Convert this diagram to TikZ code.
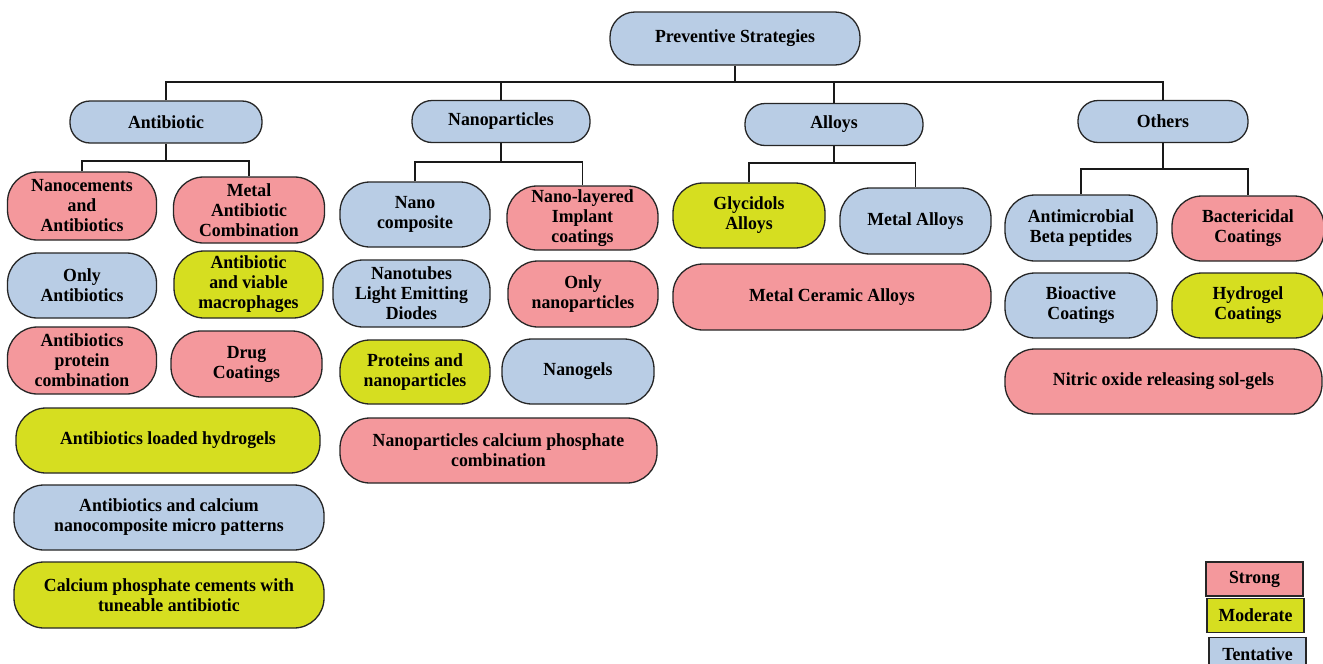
\documentclass[tikz,border=0pt]{standalone}
\usepackage{fontspec}
\setmainfont{Liberation Serif}
\newfontfamily\boxfont{Liberation Serif}[FakeStretch=0.96]
\definecolor{pinkc}{RGB}{244,152,156}
\definecolor{yellowc}{RGB}{214,222,32}
\definecolor{bluec}{RGB}{185,205,229}
\tikzset{
  pill/.style={draw=black!85, line width=1.3pt, fill=#1, rounded corners=30pt,
    align=center, inner sep=0pt, font=\boxfont\fontsize{18.5}{20}\selectfont\bfseries},
  head/.style={pill=bluec, rounded corners=20pt, minimum height=42},
  conn/.style={draw=black!90, line width=1.4pt},
  key/.style={draw=black!85, line width=1.4pt, fill=#1, inner sep=0pt,
    minimum width=97, minimum height=34,
    font=\boxfont\fontsize{18.5}{20}\selectfont\bfseries}
}
\begin{document}
\begin{tikzpicture}[x=1pt,y=-1pt]
\clip (0,0) rectangle (1323,664);
\fill[white] (0,0) rectangle (1323,664);

% root and first level
\node[pill=bluec, minimum width=250, minimum height=53, rounded corners=25pt] (root) at (735,38.5) {Preventive Strategies};
\node[head, minimum width=192] (anti) at (166,122) {Antibiotic};
\node[head, minimum width=178] (nano) at (501,121.5) {Nanoparticles};
\node[head, minimum width=178] (alloy) at (834,124.5) {Alloys};
\node[head, minimum width=170] (oth) at (1163,121.5) {Others};

\coordinate (bar) at (735,82);
\draw[conn] (root.south) -- (root.south |- bar);
\draw[conn] (anti.north) -- (anti.north |- bar) -- (oth.north |- bar) -- (oth.north);
\draw[conn] (nano.north) -- (nano.north |- bar);
\draw[conn] (alloy.north) -- (alloy.north |- bar);

% antibiotic branch
\node[pill=pinkc, minimum width=149, minimum height=68] (nac) at (82,206) {Nanocements\\and\\Antibiotics};
\node[pill=pinkc, minimum width=151, minimum height=66] (mac) at (249,210) {Metal\\Antibiotic\\Combination};
\node[pill=bluec, minimum width=149, minimum height=65] (oa) at (82,285.5) {Only\\Antibiotics};
\node[pill=yellowc, minimum width=149, minimum height=67] (avm) at (248.5,284.5) {Antibiotic\\and viable\\macrophages};
\node[pill=pinkc, minimum width=149, minimum height=67] (apc) at (82,360.5) {Antibiotics\\protein\\combination};
\node[pill=pinkc, minimum width=151, minimum height=66] (dc) at (246.5,364) {Drug\\Coatings};
\node[pill=yellowc, minimum width=304, minimum height=65] (alh) at (168,440.5) {Antibiotics loaded hydrogels};
\node[pill=bluec, minimum width=310, minimum height=65] (acn) at (169,517.5) {Antibiotics and calcium\\nanocomposite micro patterns};
\node[pill=yellowc, minimum width=310, minimum height=66] (cpc) at (169,595) {Calcium phosphate cements with\\tuneable antibiotic};

\coordinate (ja) at (166,161);
\draw[conn] (anti.south) -- (ja);
\draw[conn] (nac.north) -- (nac.north |- ja) -- (mac.north |- ja) -- (mac.north);

% nanoparticles branch
\node[pill=bluec, minimum width=150, minimum height=65] (nc) at (415,214.5) {Nano\\composite};
\node[pill=pinkc, minimum width=151, minimum height=64] (nli) at (582.5,218) {Nano-layered\\Implant\\coatings};
\node[pill=bluec, minimum width=157, minimum height=67] (nt) at (411.5,293.5) {Nanotubes\\Light Emitting\\Diodes};
\node[pill=pinkc, minimum width=150, minimum height=66] (on) at (583,294) {Only\\nanoparticles};
\node[pill=yellowc, minimum width=150, minimum height=64] (pn) at (415,372) {Proteins and\\nanoparticles};
\node[pill=bluec, minimum width=152, minimum height=65] (ng) at (578,371.5) {Nanogels};
\node[pill=pinkc, minimum width=317, minimum height=65] (ncp) at (498.5,450.5) {Nanoparticles calcium phosphate\\combination};

\coordinate (jn) at (501,162);
\draw[conn] (nano.south) -- (jn);
\draw[conn] (nc.north) -- (nc.north |- jn) -- (nli.north |- jn) -- (nli.north);

% alloys branch
\node[pill=yellowc, minimum width=152, minimum height=65] (ga) at (749,215.5) {Glycidols\\Alloys};
\node[pill=bluec, minimum width=151, minimum height=66] (ma) at (915.5,221) {Metal Alloys};
\node[pill=pinkc, minimum width=318, minimum height=66] (mca) at (832,297) {Metal Ceramic Alloys};

\coordinate (jl) at (834,163);
\draw[conn] (alloy.south) -- (jl);
\draw[conn] (ga.north) -- (ga.north |- jl) -- (ma.north |- jl) -- (ma.north);

% others branch
\node[pill=bluec, minimum width=152, minimum height=66] (abp) at (1081,228) {Antimicrobial\\Beta peptides};
\node[pill=pinkc, minimum width=152, minimum height=65] (bc) at (1248,228.5) {Bactericidal\\Coatings};
\node[pill=bluec, minimum width=152, minimum height=65] (bac) at (1081,305.5) {Bioactive\\Coatings};
\node[pill=yellowc, minimum width=152, minimum height=65] (hc) at (1248,305.5) {Hydrogel\\Coatings};
\node[pill=pinkc, minimum width=317, minimum height=65] (nos) at (1163.5,381.5) {Nitric oxide releasing sol-gels};

\coordinate (jo) at (1163,169);
\draw[conn] (oth.south) -- (jo);
\draw[conn] (abp.north) -- (abp.north |- jo) -- (bc.north |- jo) -- (bc.north);

% key
\node[key=pinkc] (kstrong) at (1254.5,579) {Strong};
\node[key=yellowc] (kmod) at (1255.5,615.5) {Moderate};
\node[key=bluec] (ktent) at (1257.5,654.5) {Tentative};
\end{tikzpicture}
\end{document}
